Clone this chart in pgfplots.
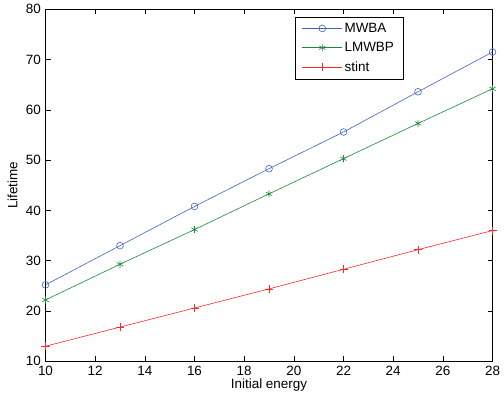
\documentclass[border=0pt]{standalone}
\usepackage{pgfplots}
\pgfplotsset{compat=1.18}
\usepackage{fontspec}
\setmainfont{Liberation Sans}
\definecolor{mblue}{RGB}{64,96,200}
\definecolor{mgreen}{RGB}{30,135,60}
\definecolor{mred}{RGB}{250,40,40}
\begin{document}
\fontsize{13.5}{16}\selectfont
\begin{tikzpicture}
\useasboundingbox (-45.5bp,-38.7bp) rectangle (458.5bp,361.3bp);
\begin{axis}[
  at={(0,0)}, anchor=south west,
  scale only axis,
  width=447bp, height=352bp,
  xmin=10, xmax=28, ymin=10, ymax=80,
  xtick={10,12,...,28}, ytick={10,20,...,80},
  tick align=inside,
  tick pos=both,
  major tick length=5bp,
  /pgf/number format/assume math mode=true,
  tick label style={font=\fontsize{13.5}{16}\selectfont},
  label style={font=\fontsize{13.5}{16}\selectfont},
  xlabel={Initial energy},
  ylabel={Lifetime},
  xlabel style={at={(axis description cs:0.5,-0.068)}, anchor=center},
  ylabel style={at={(axis description cs:-0.0738,0.5)}, anchor=center},
  axis line style={line width=0.8bp},
  every tick/.style={black, line width=0.6bp},
  legend style={at={(0.5575,0.9795)}, anchor=north west, draw=black, line width=0.6bp,
    font=\fontsize{13.5}{16}\selectfont, cells={anchor=west}, inner xsep=7bp, inner ysep=4bp, row sep=4bp},
  legend image code/.code={\draw[mark repeat=2,mark phase=2] plot coordinates {(0bp,0bp) (20bp,0bp) (40bp,0bp)};},
  legend cell align=left,
]
\addplot[mblue, line width=0.6bp, mark=o, mark size=3.4bp, mark options={solid}] coordinates {
(10,25.2) (13,33.0) (16,40.8) (19,48.3) (22,55.6) (25,63.6) (28,71.5)};
\addlegendentry{MWBA}
\addplot[mgreen, line width=0.6bp, mark=asterisk, mark size=3.6bp] coordinates {
(10,22.2) (13,29.3) (16,36.2) (19,43.3) (22,50.3) (25,57.3) (28,64.2)};
\addlegendentry{LMWBP}
\addplot[mred, line width=0.6bp, mark=+, mark size=4bp] coordinates {
(10,13.0) (13,16.8) (16,20.6) (19,24.4) (22,28.3) (25,32.2) (28,36.0)};
\addlegendentry{stint}
\end{axis}
\end{tikzpicture}
\end{document}
